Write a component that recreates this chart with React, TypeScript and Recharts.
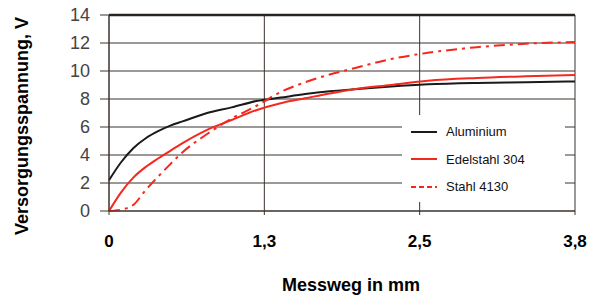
import { CartesianGrid, Legend, Line, LineChart, ReferenceLine, XAxis, YAxis } from "recharts";

// x in axis units (the axis is drawn with evenly spaced ticks 0 / 1,3 / 2,5 / 3,8)
const xs = [0, 0.1, 0.2, 0.3, 0.4, 0.5, 0.6, 0.8, 1.0, 1.2, 1.4, 1.6, 1.8, 2.0, 2.3, 2.6, 3.0, 3.4, 3.8];

const aluminium = [2.2, 3.5, 4.5, 5.2, 5.7, 6.1, 6.4, 7.0, 7.4, 7.85, 8.1, 8.35, 8.55, 8.7, 8.9, 9.05, 9.15, 9.2, 9.25];
const edelstahl = [0, 1.35, 2.4, 3.15, 3.75, 4.3, 4.85, 5.8, 6.5, 7.2, 7.7, 8.05, 8.4, 8.7, 9.0, 9.3, 9.5, 9.62, 9.72];
const stahl = [0, 0.1, 0.45, 1.5, 2.45, 3.35, 4.2, 5.5, 6.6, 7.5, 8.5, 9.2, 9.75, 10.2, 10.85, 11.3, 11.7, 11.95, 12.07];

const xTicks = [0, 3.8 / 3, 7.6 / 3, 3.8];
const xLabels = ["0", "1,3", "2,5", "3,8"];
const yTicks = [0, 2, 4, 6, 8, 10, 12, 14];

const data = xs.map((x, i) => ({
  x,
  alu: aluminium[i],
  edel: edelstahl[i],
  stahl: stahl[i],
}));

const FONT = '"Liberation Sans", Arial, sans-serif';
const GRID = "#3b332e";
const RED = "#f5281e";

const legendDash: Record<string, string | undefined> = {
  alu: undefined,
  edel: undefined,
  stahl: "5 3",
};

function LegendBox(props: any) {
  const payload = props.payload ?? [];
  return (
    <div style={{ paddingTop: 3, fontFamily: FONT, fontSize: 13, color: "#111" }}>
      {payload.map((p: any) => (
        <div key={p.dataKey} style={{ height: 27.5, display: "flex", alignItems: "center" }}>
          <svg width={44} height={6} style={{ display: "block" }}>
            <line x1={9} x2={35} y1={3} y2={3} stroke={p.color} strokeWidth={2} strokeDasharray={legendDash[p.dataKey]} />
          </svg>
          <span>{p.value}</span>
        </div>
      ))}
    </div>
  );
}

export default function App() {
  return (
    <div style={{ position: "absolute", left: 0, top: 0, width: 596, height: 296, background: "#fff" }}>
      <LineChart width={596} height={296} data={data} margin={{ top: 15, right: 21, bottom: 55, left: 0 }}>
        <CartesianGrid stroke={GRID} strokeWidth={1} />
        <XAxis
          dataKey="x"
          type="number"
          domain={[0, 3.8]}
          ticks={xTicks}
          interval={0}
          height={30}
          tickFormatter={(v: number) => xLabels[xTicks.findIndex((t) => Math.abs(t - v) < 1e-6)] ?? ""}
          tick={{ fill: "#000", fontSize: 17, fontWeight: 700, fontFamily: FONT }}
          tickSize={4}
          tickMargin={20}
          stroke={GRID}
          label={{
            content: () => (
              <text x={351} y={291} textAnchor="middle" fontFamily={FONT} fontSize={18} fontWeight={700} fill="#000">
                Messweg in mm
              </text>
            ),
          }}
        />
        <YAxis
          type="number"
          domain={[0, 14]}
          ticks={yTicks}
          interval={0}
          width={109}
          tick={{ fill: "#444", fontSize: 18, fontFamily: FONT }}
          tickSize={9}
          tickMargin={10}
          stroke={GRID}
          label={{
            content: () => (
              <text
                x={28}
                y={126}
                transform="rotate(-90 28 126)"
                textAnchor="middle"
                fontFamily={FONT}
                fontSize={18}
                fontWeight={700}
                fill="#000"
              >
                Versorgungsspannung, V
              </text>
            ),
          }}
        />
        <ReferenceLine y={14} stroke="#2a2420" strokeWidth={2.5} />
        <Line dataKey="alu" name="Aluminium" type="monotone" stroke="#1a1a1a" strokeWidth={2} dot={false} isAnimationActive={false} />
        <Line dataKey="edel" name="Edelstahl 304" type="monotone" stroke={RED} strokeWidth={2} dot={false} isAnimationActive={false} />
        <Line
          dataKey="stahl"
          name="Stahl 4130"
          type="monotone"
          stroke={RED}
          strokeWidth={2}
          strokeDasharray="11 5 3 5"
          dot={false}
          isAnimationActive={false}
        />
        <Legend
          layout="vertical"
          align="center"
          verticalAlign="middle"
          content={LegendBox}
          wrapperStyle={{ position: "absolute", left: 402, top: 115, width: 163, height: 87, background: "#fff" }}
        />
      </LineChart>
    </div>
  );
}
